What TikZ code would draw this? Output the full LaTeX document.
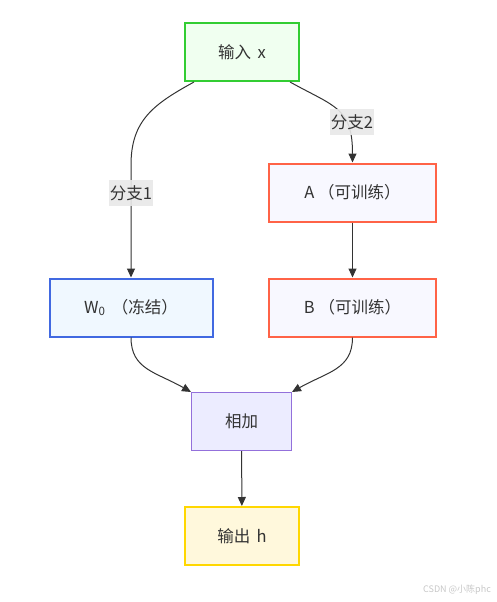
\documentclass[tikz,border=0pt]{standalone}
\usepackage{fontspec}
\setmainfont{Noto Sans CJK SC}
\usetikzlibrary{arrows.meta}
\definecolor{txt}{HTML}{333333}
\definecolor{lblbg}{HTML}{E8E8E8}
\definecolor{inline}{HTML}{32CD32}
\definecolor{infill}{HTML}{F0FFF0}
\definecolor{trline}{HTML}{FF6347}
\definecolor{trfill}{HTML}{F8F8FF}
\definecolor{frline}{HTML}{4169E1}
\definecolor{frfill}{HTML}{F0F8FF}
\definecolor{addline}{HTML}{9370DB}
\definecolor{addfill}{HTML}{ECECFF}
\definecolor{outline}{HTML}{FFD700}
\definecolor{outfill}{HTML}{FFF8DC}

\begin{document}
\begin{tikzpicture}[x=1pt,y=-1pt,>={Triangle[length=9pt,width=8pt]},
	  every node/.append style={font=\fontsize{16.5}{19}\selectfont,text=txt},
	  box/.style={rectangle,line width=2pt,minimum height=58pt,inner sep=0pt},
	  lbl/.style={fill=lblbg,fill opacity=0.9,text opacity=1,inner xsep=1pt,minimum height=26pt}]
	  \tikzstyle{edge} = [->,draw=txt,line width=1pt]
	  \useasboundingbox (0,0) rectangle (497,602);
	  \node (in_x) [box,draw=inline,fill=infill,minimum width=114pt] at (242,52) {输入\ \,x};
	  \node (a_t) [box,draw=trline,fill=trfill,minimum width=167pt] at (352.5,192.5) {A （可训练）};
	  \node (w_0) [box,draw=frline,fill=frfill,minimum width=163pt] at (131,307.5) {W\textsubscript{0}\, （冻结）};
	  \node (b_t) [box,draw=trline,fill=trfill,minimum width=167pt] at (352.5,307.5) {B （可训练）};
	  \node (add) [box,draw=addline,fill=addfill,line width=1pt,minimum width=100pt] at (241.5,421.5) {相加};
	  \node (out_h) [box,draw=outline,fill=outfill,minimum width=114pt] at (242,536) {输出\ \,h};
	  \coordinate (k_1) at (131,165);
	  \draw[edge] ([xshift=-48pt]in_x.south) .. controls +(-40,22) and +(0,-45) .. (k_1) -- (w_0);
	  \draw[edge] ([xshift=48pt]in_x.south) .. controls +(45,25) and +(0,-55) .. (a_t.north);
	  \draw[edge] (a_t) -- (b_t);
	  \draw[edge] (w_0.south) .. controls +(0,32) and +(-35,-20) .. (add.north west);
	  \draw[edge] (b_t.south) .. controls +(0,32) and +(35,-20) .. (add.north east);
	  \draw[edge] (add) -- (out_h);
	  % edge labels
	  \node (l_1) [lbl] at (131,193) {分支1};
	  \node (l_2) [lbl] at (352,122) {分支2};
	  \node (mark) [font=\fontsize{9}{10}\selectfont,text=black!22] at (457,590) {CSDN @小陈phc};
	\end{tikzpicture}
\end{document}
